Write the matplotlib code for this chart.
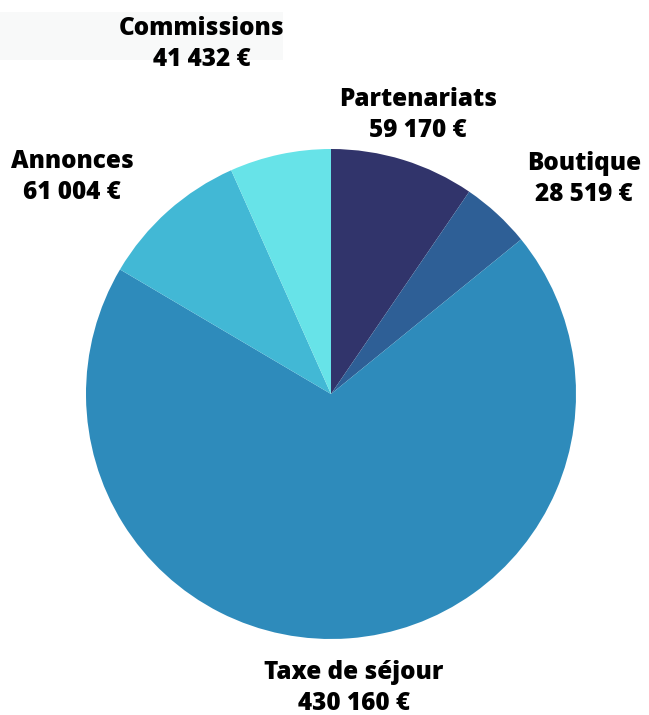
import matplotlib.pyplot as plt
from matplotlib.patches import Rectangle

# revenue split (EUR)
categories = ["Partenariats", "Boutique", "Taxe de séjour", "Annonces", "Commissions"]
values = [59170, 28519, 430160, 61004, 41432]
value_labels = ["59 170 €", "28 519 €", "430 160 €", "61 004 €", "41 432 €"]
colors = ["#31346b", "#2e5f96", "#2e8bbb", "#42b8d5", "#67e3e8"]

W, H = 649, 715
fig = plt.figure(figsize=(W / 100, H / 100), dpi=100)
ax = fig.add_axes([0, 0, 1, 1])

ax.add_patch(Rectangle((0, H - 60), 283, 48, color="#f8f9f9", lw=0, zorder=0))

ax.pie(values, colors=colors, startangle=90, counterclock=False,
       center=(331, H - 394), radius=245, frame=True,
       wedgeprops=dict(linewidth=0))
ax.set_xlim(0, W)
ax.set_ylim(0, H)
ax.set_aspect("equal")
ax.axis("off")

# label anchor positions in pixel coords (x, y-from-top)
label_pos = {
    "Partenariats": (418, 115),
    "Boutique": (584, 179),
    "Taxe de séjour": (354, 688),
    "Annonces": (72, 177),
    "Commissions": (202, 44),
}
for cat, val in zip(categories, value_labels):
    x, y = label_pos[cat]
    ax.text(x, H - y, f"{cat}\n{val}", ha="center", va="center",
            fontsize=17.5, fontweight="heavy", family="Open Sans",
            linespacing=1.34, color="#000000")

fig.savefig("out.png", dpi=100)
